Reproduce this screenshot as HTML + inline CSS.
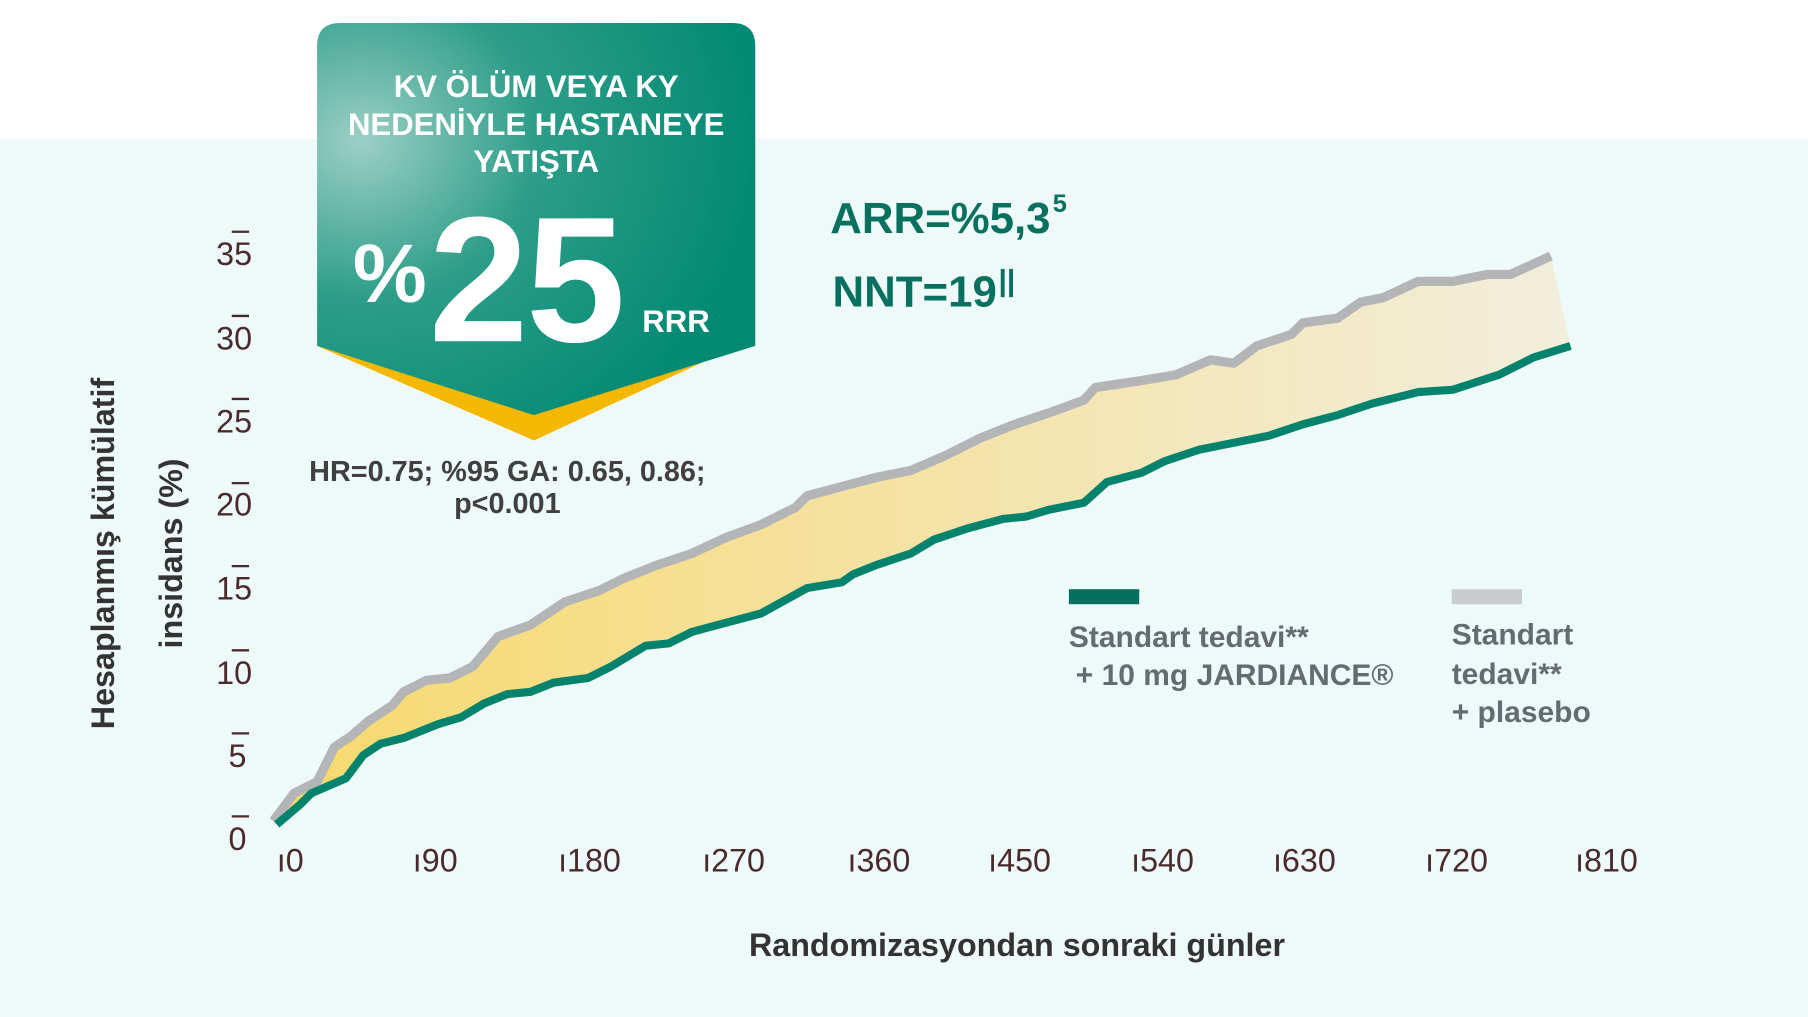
<!DOCTYPE html>
<html><head><meta charset="utf-8"><style>
html,body{margin:0;padding:0;width:1808px;height:1017px;overflow:hidden;background:#fff}
svg{display:block}
text{font-family:"Liberation Sans",sans-serif}
</style></head><body>
<svg width="1808" height="1017" viewBox="0 0 1568 882" preserveAspectRatio="none">
<defs>
<linearGradient id="fillg" x1="0" x2="1" y1="0" y2="0">
<stop offset="0" stop-color="#f6d96c"/><stop offset="0.5" stop-color="#f5e3a6"/><stop offset="1" stop-color="#f1eedc"/>
</linearGradient>
<radialGradient id="badg" cx="0.1" cy="0.3" r="0.9">
<stop offset="0" stop-color="#9ccfc4"/><stop offset="0.45" stop-color="#2c9d88"/><stop offset="1" stop-color="#048a74"/>
</radialGradient>
</defs>
<rect x="0" y="0" width="1568" height="882" fill="#fff"/>
<rect x="0" y="120" width="1568" height="762" fill="#eef9f9"/>

<path fill="url(#fillg)" d="M237,712 L255,688 L275,678 L290,648 L305,638 L320,625 L340,612 L350,600 L370,590 L390,588 L410,578 L432,552 L460,542 L490,522 L520,512 L540,502 L570,490 L600,480 L630,466 L660,455 L690,440 L700,430 L730,422 L760,414 L790,408 L820,395 L850,380 L880,368 L910,358 L940,347 L950,336 L990,330 L1020,325 L1050,312 L1070,315 L1090,300 L1120,290 L1130,280 L1160,276 L1180,262 L1200,258 L1230,244 L1260,244 L1290,238 L1310,238 L1345,222 L1362,300 L1330,310 L1300,325 L1260,338 L1230,340 L1190,350 L1160,360 L1130,368 L1100,378 L1080,382 L1040,390 L1010,400 L990,410 L960,418 L940,436 L910,442 L890,448 L870,450 L840,458 L810,468 L790,480 L760,490 L740,498 L730,505 L700,510 L660,532 L630,540 L600,548 L580,558 L560,560 L530,578 L510,588 L480,592 L460,600 L440,602 L420,610 L400,622 L380,628 L350,640 L330,645 L315,655 L300,675 L270,688 L260,698 L240,715 Z"/>
<polyline fill="none" stroke="#b3b5b6" stroke-width="8" stroke-linejoin="round" points="237,712 255,688 275,678 290,648 305,638 320,625 340,612 350,600 370,590 390,588 410,578 432,552 460,542 490,522 520,512 540,502 570,490 600,480 630,466 660,455 690,440 700,430 730,422 760,414 790,408 820,395 850,380 880,368 910,358 940,347 950,336 990,330 1020,325 1050,312 1070,315 1090,300 1120,290 1130,280 1160,276 1180,262 1200,258 1230,244 1260,244 1290,238 1310,238 1345,222"/>
<polyline fill="none" stroke="#03836d" stroke-width="7" stroke-linejoin="round" points="240,715 260,698 270,688 300,675 315,655 330,645 350,640 380,628 400,622 420,610 440,602 460,600 480,592 510,588 530,578 560,560 580,558 600,548 630,540 660,532 700,510 730,505 740,498 760,490 790,480 810,468 840,458 870,450 890,448 910,442 940,436 960,418 990,410 1010,400 1040,390 1080,382 1100,378 1130,368 1160,360 1190,350 1230,340 1260,338 1300,325 1330,310 1362,300"/>

<g fill="#4a2a2a" font-size="28" text-anchor="middle">
<text x="206" y="737">0</text><text x="206" y="665">5</text><text x="203" y="593">10</text><text x="203" y="520">15</text><text x="203" y="447">20</text><text x="203" y="375">25</text><text x="203" y="303">30</text><text x="203" y="230">35</text>
</g>
<g stroke="#4a2a2a" stroke-width="2">
<line x1="201" y1="708" x2="216" y2="708"/><line x1="201" y1="636" x2="216" y2="636"/><line x1="201" y1="564" x2="216" y2="564"/><line x1="201" y1="491" x2="216" y2="491"/><line x1="201" y1="419" x2="216" y2="419"/><line x1="201" y1="346" x2="216" y2="346"/><line x1="201" y1="274" x2="216" y2="274"/><line x1="201" y1="201" x2="216" y2="201"/>
</g>
<g fill="#4a2a2a" font-size="28">
<text x="240" y="756">ı0</text><text x="358" y="756">ı90</text><text x="484" y="756">ı180</text><text x="609" y="756">ı270</text><text x="735" y="756">ı360</text><text x="857" y="756">ı450</text><text x="981" y="756">ı540</text><text x="1104" y="756">ı630</text><text x="1236" y="756">ı720</text><text x="1366" y="756">ı810</text>
</g>
<text x="882" y="829" font-size="28" font-weight="bold" fill="#333" text-anchor="middle">Randomizasyondan sonraki günler</text>
<text transform="translate(99,480) rotate(-90)" font-size="28" font-weight="bold" fill="#333" text-anchor="middle">Hesaplanmış kümülatif</text>
<text transform="translate(158,480) rotate(-90)" font-size="28" font-weight="bold" fill="#333" text-anchor="middle">insidans (%)</text>

<path d="M275,300 L463,382 L640,300 Z" fill="#f5b800"/>
<path d="M295,20 H635 Q655,20 655,40 V300 L463,360 L275,300 V40 Q275,20 295,20 Z" fill="url(#badg)"/>
<g fill="#fff" font-weight="bold" text-anchor="middle" font-size="27">
<text x="465" y="84">KV ÖLÜM VEYA KY</text>
<text x="465" y="117">NEDENİYLE HASTANEYE</text>
<text x="465" y="149">YATIŞTA</text>
</g>
<text x="306" y="262" fill="#fff" font-weight="bold" font-size="72">%</text>
<text x="372" y="296" fill="#fff" font-weight="bold" font-size="155" letter-spacing="-2">25</text>
<text x="557" y="288" fill="#fff" font-weight="bold" font-size="27">RRR</text>

<g fill="#404040" font-weight="bold" font-size="25" text-anchor="middle">
<text x="440" y="417">HR=0.75; %95 GA: 0.65, 0.86;</text>
<text x="440" y="445">p&lt;0.001</text>
</g>
<g fill="#08705e" font-weight="bold">
<text x="720" y="202" font-size="38">ARR=%5,3</text><text x="913" y="184" font-size="22">5</text>
<text x="722" y="266" font-size="38">NNT=19</text><text x="866" y="252" font-size="26">||</text>
</g>

<rect x="927" y="511" width="61" height="13" fill="#04705e"/>
<rect x="1259" y="511" width="61" height="13" fill="#c9cdd0"/>
<g fill="#646c72" font-weight="bold" font-size="26">
<text x="927" y="561">Standart tedavi**</text>
<text x="933" y="594">+ 10 mg JARDIANCE®</text>
<text x="1259" y="559">Standart</text>
<text x="1259" y="593">tedavi**</text>
<text x="1259" y="626">+ plasebo</text>
</g>
</svg>
</body></html>
